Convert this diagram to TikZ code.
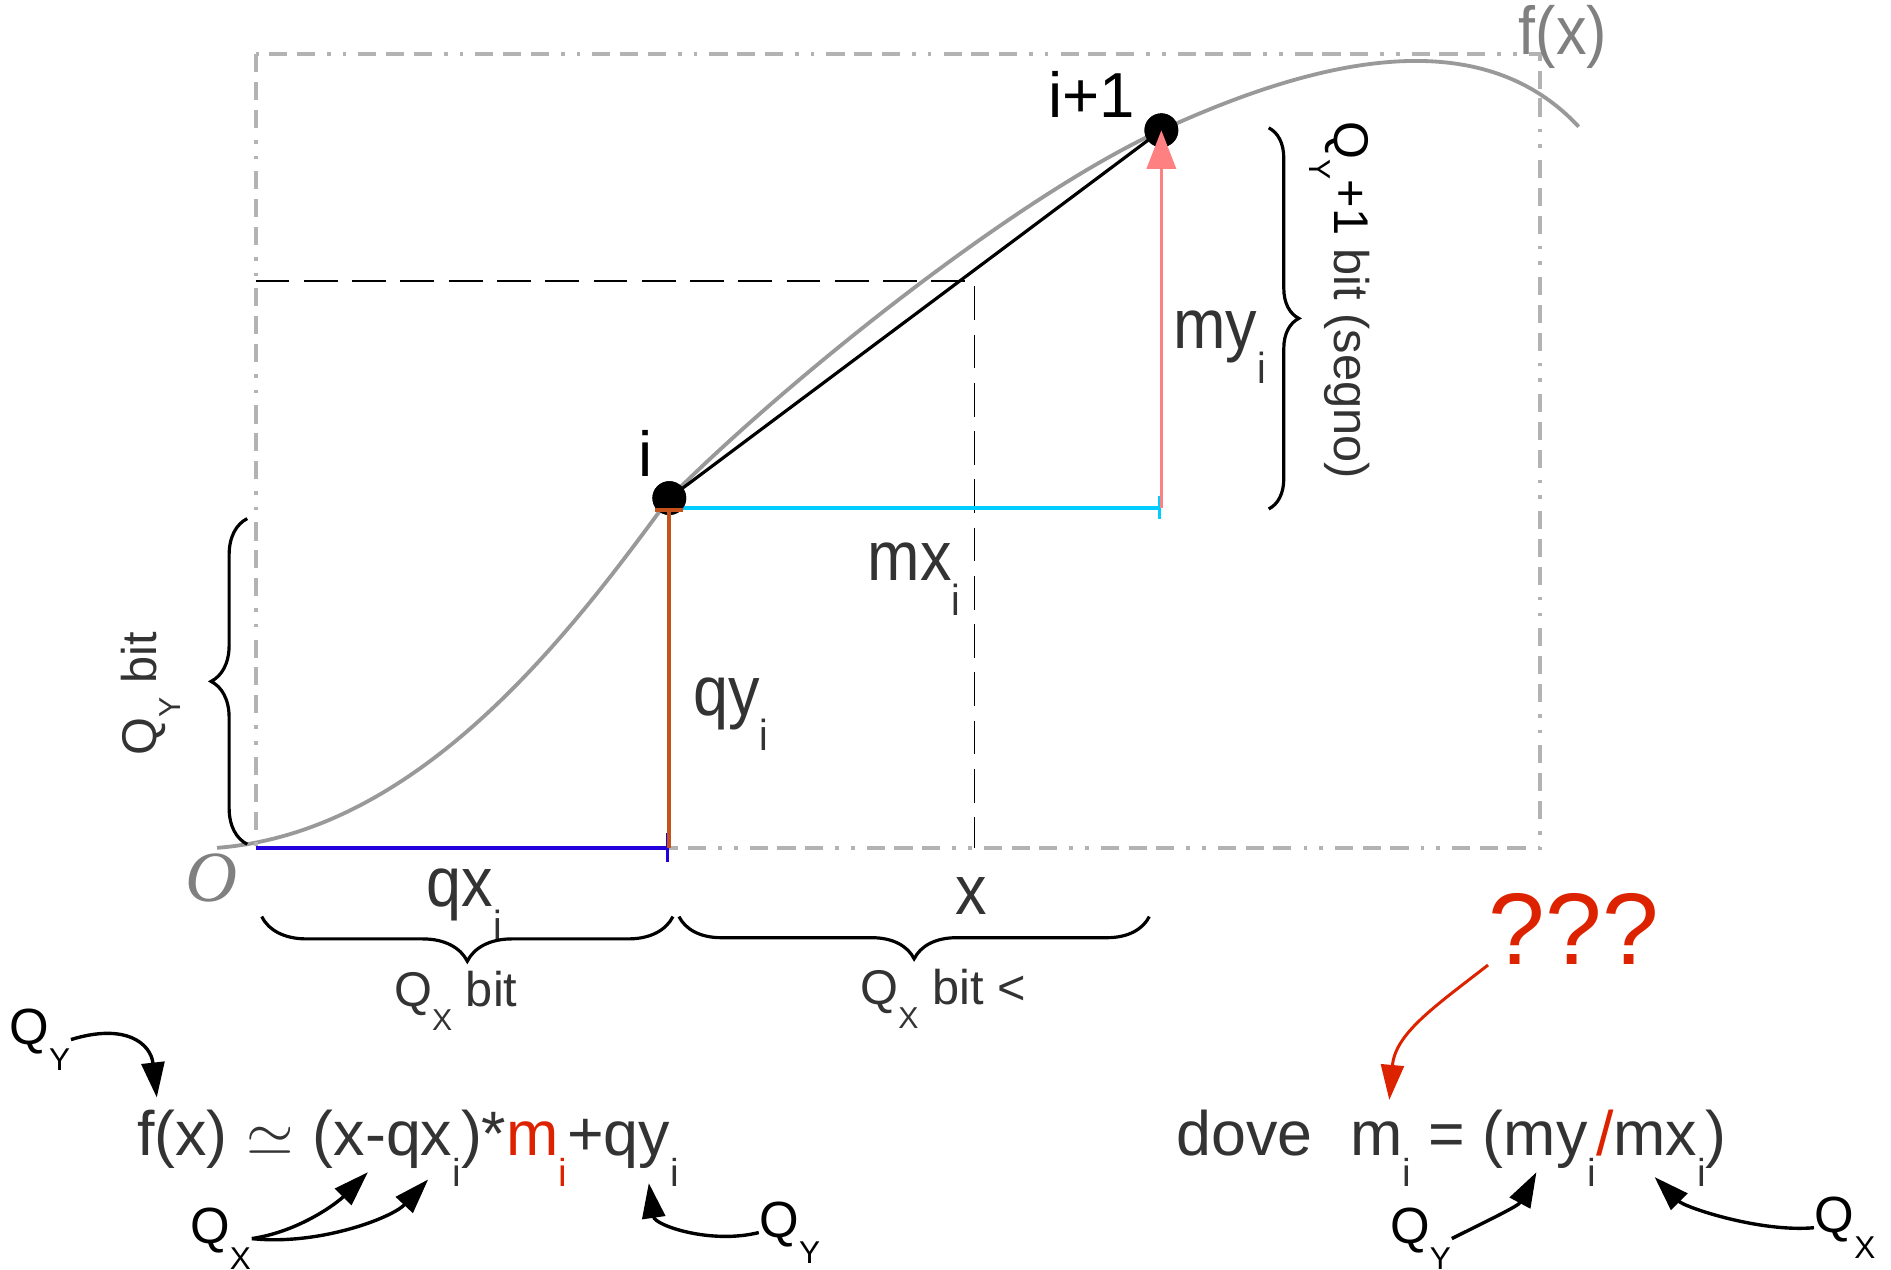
\documentclass[tikz,border=0pt]{standalone}
\usepackage{fontspec}
\usepackage{graphicx}
\setmainfont{Liberation Sans}
\newfontfamily\lblfont{Liberation Sans}[FakeStretch=0.9]
\newfontfamily\serifit{Liberation Serif}
\usetikzlibrary{arrows.meta,decorations.pathreplacing}

\definecolor{framegray}{HTML}{B3B3B3}
\definecolor{curvegray}{HTML}{999999}
\definecolor{txtgray}{HTML}{333333}
\definecolor{fxgray}{HTML}{808080}
\definecolor{qxblue}{HTML}{2200DD}
\definecolor{qybrown}{HTML}{C5521A}
\definecolor{mxcyan}{HTML}{00CCFF}
\definecolor{mypink}{HTML}{FF8080}
\definecolor{mred}{HTML}{DD2200}

\newcommand{\dn}[1]{\raisebox{-0.5em}{\scalebox{0.62}{#1}}}

\begin{document}
\begin{tikzpicture}[x=0.01cm,y=-0.01cm,
    every node/.style={inner sep=0pt},
    lbl/.style={text=txtgray,font=\lblfont\fontsize{16.5}{18}\selectfont},
    eqn/.style={text=txtgray,font=\fontsize{14.8}{16}\selectfont},
    bits/.style={text=txtgray,font=\fontsize{11.5}{13}\selectfont},
    qlbl/.style={font=\fontsize{12}{14}\selectfont},
    ptlbl/.style={font=\fontsize{15}{17}\selectfont},
    ptdot/.style={circle,fill=black,minimum size=0.28cm},
    qarrow/.style={line width=0.8pt,-{Triangle[length=0.29cm,width=0.19cm]}},
    brc/.style={decorate,decoration={brace,amplitude=#1},line width=0.75pt},
    rangebox/.style={framegray,line width=0.95pt,dash pattern=on 0.15cm off 0.08cm on 0.15cm off 0.08cm on 0.15cm off 0.1cm on 0.03cm off 0.1cm on 0.03cm off 0.1cm},
    guide/.style={black,line width=0.35pt,dash pattern=on 0.28cm off 0.12cm},
    fcurve/.style={curvegray,line width=0.9pt}]
\useasboundingbox (0,0) rectangle (1568,1053);

% points of the sketch
\coordinate (O) at (212,703);
\coordinate (Xi) at (555,703);
\coordinate (Ci) at (555,421);
\coordinate (Cj) at (963,421);
\coordinate (fy) at (212,233);
\coordinate (fq) at (808,233);
\coordinate (xq) at (808,703);

\draw[fcurve] (180,703) .. controls (350,690) and (475,522) .. (555,413)
    .. controls (655,313) and (843,163) .. (963,108)
    .. controls (1100,45) and (1230,20) .. (1309,105);
\draw[rangebox] (212,45) rectangle (1277,703);
\draw[guide] (fy) -- (fq) -- (xq);

\node[ptdot] (pi) at (555,413) {};
\node[ptdot] (pj) at (963,108) {};
\draw[mxcyan,line width=0.9pt,-{Bar[width=0.19cm]}] (Ci) -- (Cj);
\draw[qxblue,line width=0.9pt,-{Bar[width=0.24cm]}] (O) -- (Xi);
\draw[line width=0.75pt] (pi.center) -- (pj.center);
\node[ptdot] at (pi) {};
\node[ptdot] at (pj) {};
\draw[qybrown,line width=0.9pt,{Bar[width=0.23cm]}-] (Ci) -- (Xi);
\draw[mypink,line width=0.85pt,-{Triangle[length=0.32cm,width=0.24cm]}] (Cj) -- (pj.center);

\node[ptlbl] (li) at (535,376) {i};
\node[ptlbl] (lj) at (905,78) {i+1};
\node[text=fxgray,font=\lblfont\fontsize{16}{18}\selectfont] (lfx) at (1296,31) {f(x)};
\node[text=fxgray,font=\serifit\itshape\fontsize{17}{19}\selectfont] (lo) at (175,728) {O};

\node[lbl,anchor=base west] (lqx) at (353,752) {qx\dn{i}};
\node[lbl,anchor=base] (lx) at (805,758) {x};
\node[lbl,anchor=base west] (lmx) at (719,481) {mx\dn{i}};
\node[lbl,anchor=base west] (lqy) at (574,593) {qy\dn{i}};
\node[lbl,anchor=base west] (lmy) at (972,289) {my\dn{i}};

% braces
\draw[brc=0.37cm] (558,760) -- (217,760);
\draw[brc=0.35cm] (953,760) -- (563,760);
\draw[brc=0.3cm] (205,700) -- (205,430);
\draw[brc=0.25cm] (1052,106) -- (1052,422);
\node[bits] (qxbits) at (378,830) {Q\dn{X} bit};
\node[bits] (qxless) at (782,828) {Q\dn{X} bit <};
\node[bits,rotate=90] (qybits) at (125,575) {Q\dn{Y} bit};
\node[bits,rotate=-90] (qysign) at (1111,249) {\textcolor{black}{Q\dn{Y}+1} bit (segno)};

% formulas
\node[eqn,anchor=base west] (fapprox) at (113,958) {f(x)\hspace{0.3em}$\simeq$\hspace{0.3em}(x-qx\dn{i})*\textcolor{mred}{m\dn{i}}+qy\dn{i}};
\node[eqn,anchor=base west] (mdef) at (975,958) {dove\hspace{0.6em}m\dn{i} = (my\dn{i}\textcolor{mred}{/}mx\dn{i})};
\node[text=mred,font=\fontsize{24}{26}\selectfont] (qqq) at (1305,770) {???};

\node[qlbl] (qyA) at (33,862) {Q\dn{Y}};
\node[qlbl] (qxA) at (183,1027) {Q\dn{X}};
\node[qlbl] (qyB) at (655,1022) {Q\dn{Y}};
\node[qlbl] (qyC) at (1178,1027) {Q\dn{Y}};
\node[qlbl] (qxC) at (1530,1018) {Q\dn{X}};

\coordinate (tA) at (130,910);
\coordinate (tB) at (305,972);
\coordinate (tC) at (355,978);
\coordinate (tD) at (538,981);
\coordinate (tM) at (1152,912);
\coordinate (tE) at (1274,972);
\coordinate (tF) at (1372,976);

\draw[qarrow] (qyA.east) .. controls +(45,-14) and +(-5,-45) .. (tA);
\draw[qarrow] (qxA.east) .. controls +(40,-6) and +(-25,25) .. (tB);
\draw[qarrow] (qxA.east) .. controls +(55,6) and +(-30,32) .. (tC);
\draw[qarrow] (qyB.west) .. controls +(-40,10) and +(5,35) .. (tD);
\draw[qarrow,mred,line width=0.7pt] (qqq.south west) .. controls +(-45,35) and +(5,-55) .. (tM);
\draw[qarrow] (qyC.east) .. controls +(30,-15) and +(-15,28) .. (tE);
\draw[qarrow] (qxC.west) .. controls +(-45,4) and +(25,25) .. (tF);
\end{tikzpicture}
\end{document}
